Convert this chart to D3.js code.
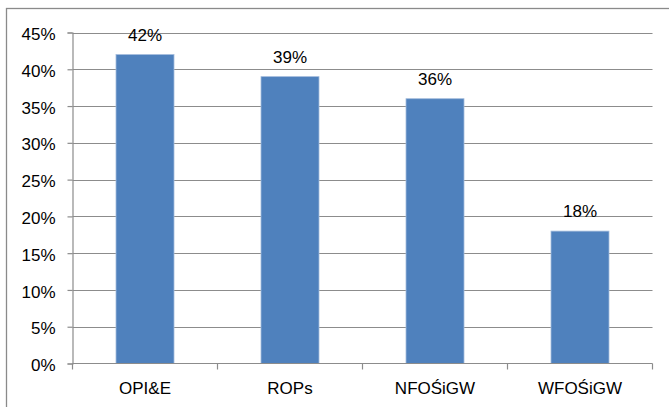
<!DOCTYPE html>
<html>
<head>
<meta charset="utf-8">
<script src="https://cdn.jsdelivr.net/npm/d3@7"></script>
<style>
  html, body { margin: 0; padding: 0; background: #fff; }
  svg { display: block; }
  text { font-family: "Liberation Sans", Arial, sans-serif; fill: #000; }
</style>
</head>
<body>
<script>
const categories = ["OPI&E", "ROPs", "NFOŚiGW", "WFOŚiGW"];
const values = [42, 39, 36, 18];
const yTicks = [0, 5, 10, 15, 20, 25, 30, 35, 40, 45];

(function () {
const W = 669, H = 407;
const svg = d3.select("body").append("svg").attr("width", W).attr("height", H);

// outer chart border (right and bottom run off the picture)
svg.append("rect")
  .attr("x", 6.5).attr("y", 8.5).attr("width", 700).attr("height", 450)
  .attr("fill", "none").attr("stroke", "#8a8a8a").attr("stroke-width", 1.3);

const pL = 72.5, pR = 652.5, pT = 32.5, pB = 363.5;

const x = d3.scaleBand().domain(categories).range([pL, pR]).paddingInner(0.6).paddingOuter(0.3);
const xb = d3.scaleBand().domain(categories).range([pL, pR]);
const y = d3.scaleLinear().domain([0, 45]).range([pB, pT]);

// gridlines
svg.append("g").selectAll("line").data(yTicks.filter(d => d > 0)).join("line")
  .attr("x1", pL).attr("x2", pR)
  .attr("y1", d => Math.round(y(d)) + 0.5).attr("y2", d => Math.round(y(d)) + 0.5)
  .attr("stroke", "#8c8c8c").attr("stroke-width", 1.2);

// bars
svg.append("g").selectAll("rect").data(values).join("rect")
  .attr("x", (d, i) => x(categories[i]))
  .attr("width", x.bandwidth())
  .attr("y", d => y(d))
  .attr("height", d => y(0) - y(d))
  .attr("fill", "#4f81bd")
  .attr("stroke", "#a3bcdc").attr("stroke-width", 0.8);

// y axis
const yAxis = d3.axisLeft(y).tickValues(yTicks).tickFormat(d => d + "%").tickSize(5).tickPadding(12);
const gy = svg.append("g").attr("transform", `translate(${pL},0)`).call(yAxis);
gy.select(".domain").attr("stroke", "#8c8c8c").attr("stroke-width", 1.2);
gy.selectAll(".tick line").attr("stroke", "#8c8c8c").attr("stroke-width", 1.2);
gy.selectAll(".tick text").attr("font-size", 17).attr("fill", "#000")
  .attr("font-family", "Liberation Sans, Arial, sans-serif").attr("dy", "0.42em");

// x axis
const gx = svg.append("g").attr("transform", `translate(0,${pB})`);
gx.append("line").attr("x1", pL).attr("x2", pR).attr("y1", 0).attr("y2", 0)
  .attr("stroke", "#8c8c8c").attr("stroke-width", 1.2);
const bounds = categories.map(c => xb(c)).concat([pR]);
gx.selectAll("line.tk").data(bounds).join("line").attr("class", "tk")
  .attr("x1", d => d).attr("x2", d => d).attr("y1", 0).attr("y2", 6)
  .attr("stroke", "#8c8c8c").attr("stroke-width", 1.2);
gx.selectAll("text").data(categories).join("text")
  .attr("x", d => xb(d) + xb.bandwidth() / 2)
  .attr("y", 30.5)
  .attr("text-anchor", "middle").attr("font-size", 17)
  .text(d => d);

// value labels
svg.append("g").selectAll("text").data(values).join("text")
  .attr("x", (d, i) => x(categories[i]) + x.bandwidth() / 2)
  .attr("y", d => y(d) - 14)
  .attr("text-anchor", "middle").attr("font-size", 17)
  .text(d => d + "%");
})();
</script>
</body>
</html>
